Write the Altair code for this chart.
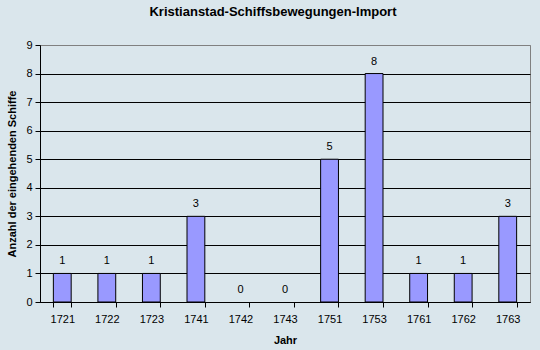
import altair as alt
import pandas as pd

years = ["1721", "1722", "1723", "1741", "1742", "1743", "1751", "1753", "1761", "1762", "1763"]
ships = [1, 1, 1, 3, 0, 0, 5, 8, 1, 1, 3]
y_ticks = [0, 1, 2, 3, 4, 5, 6, 7, 8, 9]

df = pd.DataFrame({"Jahr": years, "Schiffe": ships})

BG = "#DAE6EC"
FONT = "Liberation Sans"

x = alt.X("Jahr:N", sort=years, title="Jahr",
          scale=alt.Scale(paddingInner=0.6, paddingOuter=0.3),
          axis=alt.Axis(labelAngle=0, tickBand="extent", domainColor="black",
                        ticks=True, tickColor="black", tickSize=5, labelPadding=6,
                        labelFontSize=11, labelFont=FONT, labelColor="black",
                        titleFont=FONT, titleFontSize=11, titleFontWeight="bold",
                        titleColor="black", titlePadding=10, grid=False))
y = alt.Y("Schiffe:Q", title="Anzahl der eingehenden Schiffe",
          scale=alt.Scale(domain=[0, 9], nice=False, zero=True),
          axis=alt.Axis(values=y_ticks, tickCount=len(y_ticks), labelOverlap=False,
                        tickColor="black", tickSize=5,
                        domainColor="black", grid=True,
                        gridColor={"condition": {"test": "datum.value == 9", "value": "#808080"},
                                   "value": "black"},
                        gridOpacity=1,
                        labelFontSize=11, labelFont=FONT, labelColor="black",
                        labelPadding=3, titleFont=FONT, titleFontSize=11,
                        titleFontWeight="bold", titleColor="black", titlePadding=8))

base = alt.Chart(df).encode(x=x, y=y)
bars = base.mark_bar(color="#9999FF", stroke="black", strokeWidth=1).transform_filter(
    alt.datum.Schiffe > 0)
labels = base.mark_text(dy=-12, fontSize=11, font=FONT, color="black").encode(text="Schiffe:Q")

chart = alt.layer(bars, labels).properties(
    width=490, height=257,
    title=alt.TitleParams("Kristianstad-Schiffsbewegungen-Import", font=FONT,
                          fontSize=13, fontWeight="bold", color="black",
                          offset=20, dx=-12),
    background=BG,
    padding={"left": 40, "top": 45, "right": 10, "bottom": 48},
    autosize=alt.AutoSizeParams(type="none"),
).configure_view(stroke="#808080", fill=BG)

chart.save("out.html", embed_options={"renderer": "svg", "actions": False})
